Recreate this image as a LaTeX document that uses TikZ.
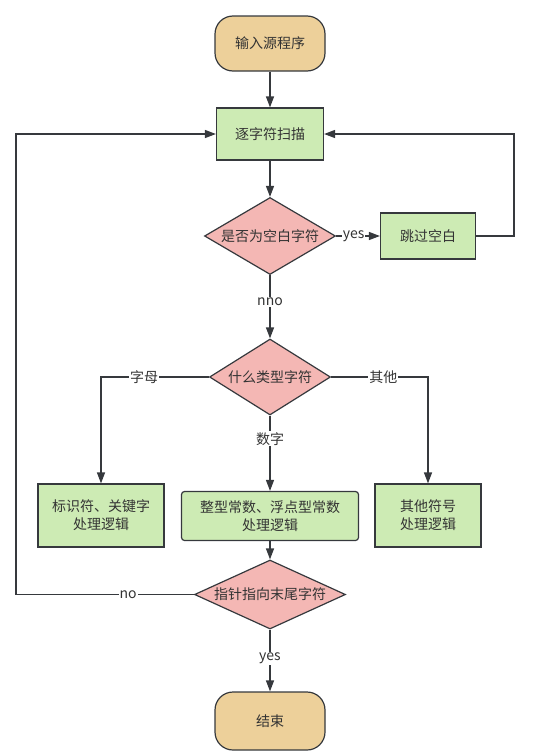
\documentclass[tikz,border=0pt]{standalone}
\usepackage{fontspec}
\newfontfamily\cjkfont{Noto Sans CJK SC}
\usetikzlibrary{shapes.geometric,arrows.meta}

\begin{document}
\begin{tikzpicture}[x=1pt, y=-1pt,
    every node/.style={font=\cjkfont\fontsize{14}{18}\selectfont, text=textcolor},
    terminal/.style={draw=linecolor, line width=1.2pt, fill=termcolor, rounded corners=18pt,
        minimum width=110pt, minimum height=55pt},
    process/.style={draw=linecolor, line width=1.2pt, fill=proccolor, align=center},
    decision/.style={diamond, draw=linecolor, line width=1.2pt, fill=deccolor, inner sep=0pt},
    arr/.style={draw=linecolor, line width=1.3pt, -{Triangle[length=11pt,width=8pt]}},
    lbl/.style={fill=white, inner sep=1pt}]
    % Define colors
    \definecolor{termcolor}{RGB}{237,208,154}
    \definecolor{proccolor}{RGB}{205,235,180}
    \definecolor{deccolor}{RGB}{244,183,180}
    \definecolor{linecolor}{RGB}{54,57,61}
    \definecolor{textcolor}{RGB}{51,51,51}

    % Canvas
    \useasboundingbox (0,0) rectangle (549,755);

    % Nodes
    \node[terminal] (start) at (270,43.5) {输入源程序};
    \node[process, minimum width=107pt, minimum height=52pt] (scan) at (270,134) {逐字符扫描};
    \node[decision, minimum width=131pt, minimum height=77pt] (blank) at (270,236) {\makebox[0pt]{是否为空白字符}};
    \node[process, minimum width=95pt, minimum height=46pt] (skip) at (428,236) {跳过空白};
    \node[decision, minimum width=121pt, minimum height=76pt] (type) at (270,377) {\makebox[0pt]{什么类型字符}};
    \node[process, minimum width=126pt, minimum height=63pt] (ident) at (101,515.5) {标识符、关键字\\处理逻辑};
    \node[process, rounded corners=3pt, minimum width=177pt, minimum height=49pt] (number) at (270,516) {整型常数、浮点型常数\\处理逻辑};
    \node[process, minimum width=106pt, minimum height=63pt] (other) at (428,515.5) {其他符号\\处理逻辑};
    \node[decision, minimum width=151pt, minimum height=69pt] (check) at (270,594.5) {\makebox[0pt]{指针指向末尾字符}};
    \node[terminal, minimum height=58pt] (finish) at (270,721) {结束};

    % Loop corners
    \coordinate (rloop) at (514,134);
    \coordinate (lloop) at (16,594.5);

    % Connectors
    \draw[arr] (start) -- (scan);
    \draw[arr] (scan) -- (blank);
    \draw[arr] (blank) -- node[lbl, pos=0.4] {yes} (skip);
    \draw[arr] (skip.east) -| (rloop) -- (scan.east);
    \draw[arr] (blank) -- node[lbl, pos=0.42] {nno} (type);
    \draw[arr] (type.west) -| node[lbl, pos=0.3] {字母} (ident.north);
    \draw[arr] (type.east) -| node[lbl, pos=0.27] {其他} (other.north);
    \draw[arr] (type) -- node[lbl, pos=0.31] {数字} (number);
    \draw[arr] (number) -- (check);
    \draw[arr] (check) -- node[lbl, pos=0.46] {yes} (finish);
    \draw[arr] (check.west) -- node[lbl, pos=0.37] {no} (lloop) |- (scan.west);
\end{tikzpicture}
\end{document}
